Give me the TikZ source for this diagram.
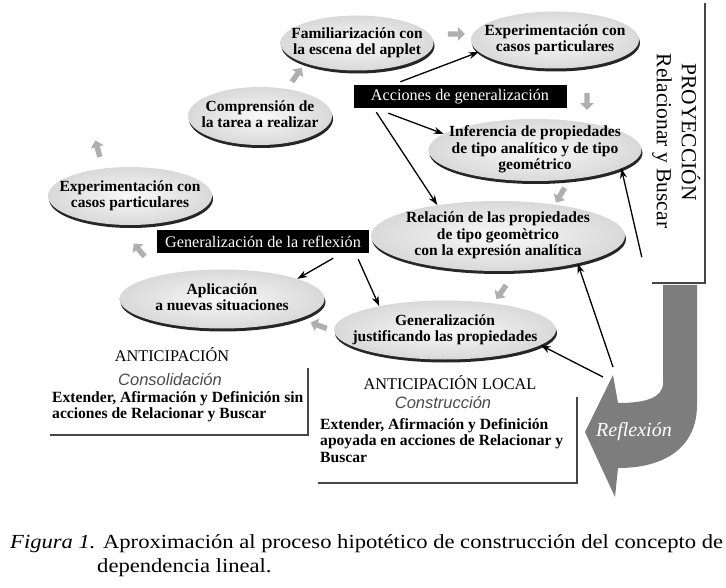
\documentclass[tikz,border=0pt]{standalone}
\usepackage{fontspec}
\setmainfont{Liberation Serif}
\newfontfamily\capfont[FakeStretch=1.13]{Liberation Serif}
\newfontfamily\notefont{Liberation Sans}
\usetikzlibrary{arrows.meta,positioning,shapes.geometric,shapes.arrows,shadows}
\definecolor{band}{RGB}{125,125,125}
\definecolor{edge}{RGB}{70,70,70}
\definecolor{hint}{RGB}{175,175,175}
\definecolor{notecol}{RGB}{75,75,75}

% text of a bubble takes no room, so the bubble keeps its own size
\newcommand\bubtext[1]{\makebox[0pt]{\raisebox{\dimexpr.5\depth-.5\height\relax}[0pt][0pt]{%
  \begin{tabular}{@{}c@{}}#1\end{tabular}}}}

\begin{document}
\begin{tikzpicture}[x=1pt, y=-1pt,
  bubble/.style={ellipse, inner sep=0pt, shading=radial, inner color=gray!5, outer color=gray!30,
    drop shadow={shadow xshift=1pt, shadow yshift=-3pt, fill=black!85, opacity=1},
    font=\fontsize{15.5}{16.6}\selectfont\bfseries},
  tag/.style={fill=black, text=white, inner sep=0pt, minimum height=23pt,
    font=\fontsize{16.2}{17}\selectfont},
  hint/.style={single arrow, fill=hint, draw=none, minimum height=17pt, minimum width=13pt,
    single arrow head extend=4pt, inner sep=2.5pt},
  flow/.style={-{Stealth[length=10pt,width=7pt]}, line width=1.3pt},
  frame/.style={line width=2.2pt, draw=edge},
  blank/.style={inner sep=0pt, draw=none},
  head/.style={font=\fontsize{16.3}{17}\selectfont},
  note/.style={font=\fontsize{16.5}{18}\notefont\itshape, text=notecol},
  desc/.style={font=\fontsize{15.6}{16.6}\selectfont\bfseries, align=left, inner sep=0pt, anchor=north west},
  side/.style={rotate=-90, font=\fontsize{21.5}{22}\selectfont}
]
\path[fill=white] (0,0) rectangle (726,588);
\useasboundingbox (0,0) rectangle (726,588);

% Proyeccion box and the Reflexion band below it
\node[blank, minimum width=53pt, minimum height=280pt] (proj) at (678.5,143) {};
\fill[band] (663,285) -- (663,383) .. controls (663,398) and (645,403) .. (618,403)
  -- (613,375) -- (585,432) -- (615,497) -- (618,468)
  .. controls (668,468) and (697,445) .. (697,405) -- (697,285) -- cycle;
\draw[frame] (proj.north east) |- (proj.south west);
\node[side] (proytitle) at (691,132) {PROYECCIÓN};
\node[side] (proysub) at (662,141) {Relacionar y Buscar};
\node[font=\fontsize{20}{22}\selectfont\itshape, text=white] (refl) at (634,432) {Reflexión};
\coordinate (reflA) at (613,367);
\coordinate (reflB) at (603,377);

% Bubbles of the cycle
\node[bubble, minimum width=153pt, minimum height=55pt] (fam) at (357,43) {\bubtext{Familiarización con\\la escena del applet}};
\node[bubble, minimum width=168pt, minimum height=57pt] (expr) at (555,40) {\bubtext{Experimentación con\\casos particulares}};
\node[bubble, minimum width=144pt, minimum height=58pt] (comp) at (260,116) {\bubtext{Comprensión de\\la tarea a realizar}};
\node[bubble, minimum width=213pt, minimum height=62pt] (inf) at (535,150) {\bubtext{Inferencia de propiedades\\de tipo analítico y de tipo\\geométrico}};
\node[bubble, minimum width=164pt, minimum height=58pt] (expl) at (130,196) {\bubtext{Experimentación con\\casos particulares}};
\node[bubble, minimum width=254pt, minimum height=70pt] (rel) at (498,236) {\bubtext{Relación de las propiedades\\de tipo geomètrico\\con la expresión analítica}};
\node[bubble, minimum width=205pt, minimum height=59pt] (apl) at (222,299) {\bubtext{Aplicación\\a nuevas situaciones}};
\node[bubble, minimum width=222pt, minimum height=59pt] (gen) at (445,330) {\bubtext{Generalización\\justificando las propiedades}};

% Black tags
\node[tag, minimum width=213pt] (acc) at (460,96.5) {Acciones de generalización};
\node[tag, minimum width=212pt] (genr) at (263,241.5) {Generalización de la reflexión};

% Grey hints of the cycle
\node[hint] (h1) at (455,34) {};
\node[hint, rotate=55] (h2) at (296,76) {};
\node[hint, rotate=105] (h3) at (98,150) {};
\node[hint, rotate=130] (h4) at (140,251) {};
\node[hint, rotate=160] (h5) at (320,326) {};
\node[hint, rotate=-90] (h6) at (587,100) {};
\node[hint, rotate=-120] (h7) at (561,194) {};
\node[hint, rotate=-125] (h8) at (502,291) {};

% Black arrows
\draw[flow] ([shift={(47,-3)}]acc.north west) -- (expr.189);
\draw[flow] ([shift={(35,5)}]acc.south west) -- (inf.170);
\draw[flow] ([shift={(23,4)}]acc.south west) -- (rel.153);
\draw[flow] ([shift={(-36,5)}]genr.south east) -- (apl.15);
\draw[flow] ([shift={(-11,6)}]genr.south east) -- (gen.160);
\draw[flow] ([shift={(-10,-26)}]proj.south west) -- (inf.-12);
\draw[flow] (reflA) -- (rel.-19);
\draw[flow] (reflB) -- (gen.-9);

% Anticipacion blocks
\node[blank, minimum width=258pt, minimum height=67pt] (antframe) at (179,401.5) {};
\draw[frame] (antframe.north east) |- (antframe.south west);
\node[head] (ant) at (172,355) {ANTICIPACIÓN};
\node[note] (cons) at (170,380) {Consolidación};
\node[desc] (antdesc) at (52,391) {Extender, Afirmación y Definición sin\\acciones de Relacionar y Buscar};

\node[blank, minimum width=259pt, minimum height=86pt] (locframe) at (447.5,440) {};
\draw[frame] (locframe.north east) |- (locframe.south west);
\node[head] (loc) at (450,383) {ANTICIPACIÓN LOCAL};
\node[note] (constr) at (443,403) {Construcción};
\node[desc] (locdesc) at (320,418) {Extender, Afirmación y Definición\\apoyada en acciones de Relacionar y\\Buscar};

% Caption
\node[anchor=base west, inner sep=0pt, font=\fontsize{20}{24}\capfont] (cap1) at (10,548)
  {\textit{Figura 1.} Aproximación al proceso hipotético de construcción del concepto de};
\node[anchor=base west, inner sep=0pt, font=\fontsize{20}{24}\capfont] (cap2) at (97,572) {dependencia lineal.};
\end{tikzpicture}
\end{document}
